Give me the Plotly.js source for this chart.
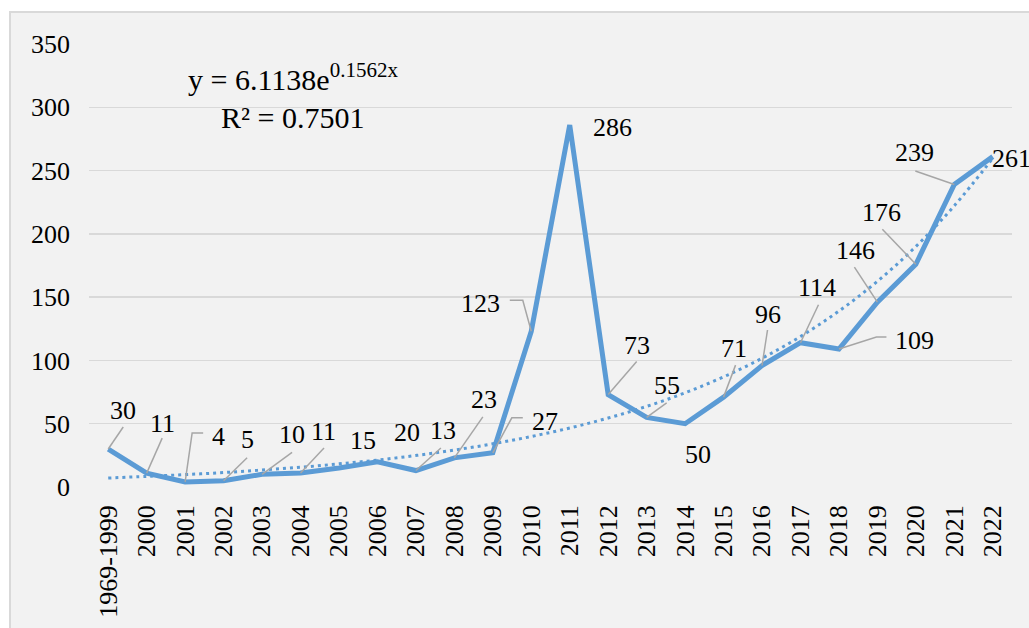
<!DOCTYPE html>
<html><head><meta charset="utf-8">
<script src="https://cdn.plot.ly/plotly-3.0.1.min.js"></script>
<style>
html,body{margin:0;padding:0;background:#fff;overflow:hidden;width:1029px;height:628px;}
#frame{position:absolute;left:9px;top:11px;border-left:2px solid #d9d9d9;border-top:2px solid #d9d9d9;}
#chart{width:1040px;height:615px;}
</style></head><body>
<div id="frame"><div id="chart"></div></div>
<script>
const categories = ['1969-1999','2000','2001','2002','2003','2004','2005','2006','2007','2008','2009','2010','2011','2012','2013','2014','2015','2016','2017','2018','2019','2020','2021','2022'];
const counts = [30,11,4,5,10,11,15,20,13,23,27,123,286,73,55,50,71,96,114,109,146,176,239,261];
const trendValues = [7.1,8.4,9.8,11.4,13.4,15.6,18.3,21.3,24.9,29.2,34.1,39.9,46.6,54.5,63.7,74.4,87.0,101.7,118.9,139.0,162.5,190.0,222.2,259.7];
const equationText = 'y = 6.1138e<sup>0.1562x</sup>';
const r2Text = 'R² = 0.7501';

// label placement (px, right / down) relative to each point
const labelOffsets = [[15,-39],[15.5,-50],[33,-45],[23.5,-41],[30,-40],[22.5,-42],[24,-28],[29.5,-29],[27,-40],[29.5,-58],[52,-31],[-50.5,-28],[43,2],[28.5,-49],[20,-32],[12.5,31],[10,-49],[5.5,-51],[17,-55],[75.5,-9],[-22,-52],[-34.5,-52],[-40,-31.5],[18.5,2]];
// leader line vertices (px, right / down) relative to each point
const leaderPaths = [
  [[0,0],[15,-22]], [[0,0],[15.5,-35]], [[0,0],[7,-49],[18,-49]], [[0,0],[23.5,-23]],
  [[0,0],[30,-22]], [[0,0],[23.5,-25]], null, null,
  [[0,0],[25,-22.5]], [[0,0],[28.5,-41]], [[0,0],[19,-35],[30,-35]], [[0,0],[-8.5,-31],[-21.5,-31]],
  null, [[0,0],[28.5,-33]], [[0,0],[20,-14.5]], null,
  [[0,0],[12,-32]], [[0,0],[5.5,-35.5]], [[0,0],[18,-38]], [[0,0],[37.5,-12],[47.5,-12]],
  [[0,0],[-23,-35]], [[0,0],[-33.5,-35]], [[0,0],[-39,-13.5]], null
];

const FONT = '"Liberation Serif", "Times New Roman", serif';
const BLUE = '#5b9bd5';
const LBL = 26;

const traces = [
  {x: categories, y: counts, type: 'scatter', mode: 'lines',
   line: {color: BLUE, width: 5}, hoverinfo: 'skip'},
  {x: categories, y: trendValues, type: 'scatter', mode: 'lines',
   line: {color: BLUE, width: 3, dash: '3px,4px', shape: 'spline'}, hoverinfo: 'skip'}
];

const annotations = counts.map((v, i) => ({
  x: i, y: v, xref: 'x', yref: 'y', text: String(v), showarrow: false,
  xanchor: 'center', yanchor: 'middle',
  xshift: labelOffsets[i][0], yshift: -labelOffsets[i][1],
  font: {family: FONT, size: LBL, color: '#000'}
}));
annotations.push({xref: 'paper', yref: 'paper', x: 0.221, y: 0.925, text: equationText,
  showarrow: false, xanchor: 'center', yanchor: 'middle', font: {family: FONT, size: 30, color: '#000'}});
annotations.push({xref: 'paper', yref: 'paper', x: 0.221, y: 0.835, text: r2Text,
  showarrow: false, xanchor: 'center', yanchor: 'middle', font: {family: FONT, size: 30, color: '#000'}});

const shapes = [];
leaderPaths.forEach((p, i) => {
  if (!p) return;
  const d = p.map((pt, k) => (k ? 'L' : 'M') + pt[0] + ',' + (-pt[1])).join(' ');
  shapes.push({type: 'path', xref: 'x', yref: 'y', xsizemode: 'pixel', ysizemode: 'pixel',
    xanchor: i, yanchor: counts[i], path: d, line: {color: '#a6a6a6', width: 1.5}, layer: 'above'});
});

const layout = {
  width: 1040, height: 615,
  margin: {l: 78, r: 39, t: 31, b: 141},
  paper_bgcolor: '#f2f2f2', plot_bgcolor: '#f2f2f2',
  showlegend: false, hovermode: false,
  font: {family: FONT, size: LBL, color: '#000'},
  xaxis: {type: 'category', range: [-0.5, 23.5], showgrid: false, zeroline: false, showline: false,
    tickangle: -90, ticks: '', tickfont: {family: FONT, size: LBL, color: '#000'}, ticklabelstandoff: 12},
  yaxis: {range: [0, 350], dtick: 50, tick0: 0, showgrid: true, gridcolor: '#d9d9d9', gridwidth: 1.5,
    zeroline: false, showline: false, ticks: '', tickfont: {family: FONT, size: LBL, color: '#000'},
    ticklabelstandoff: 18},
  annotations: annotations,
  shapes: shapes
};

Plotly.newPlot('chart', traces, layout, {displayModeBar: false, staticPlot: true});
</script>
</body></html>
